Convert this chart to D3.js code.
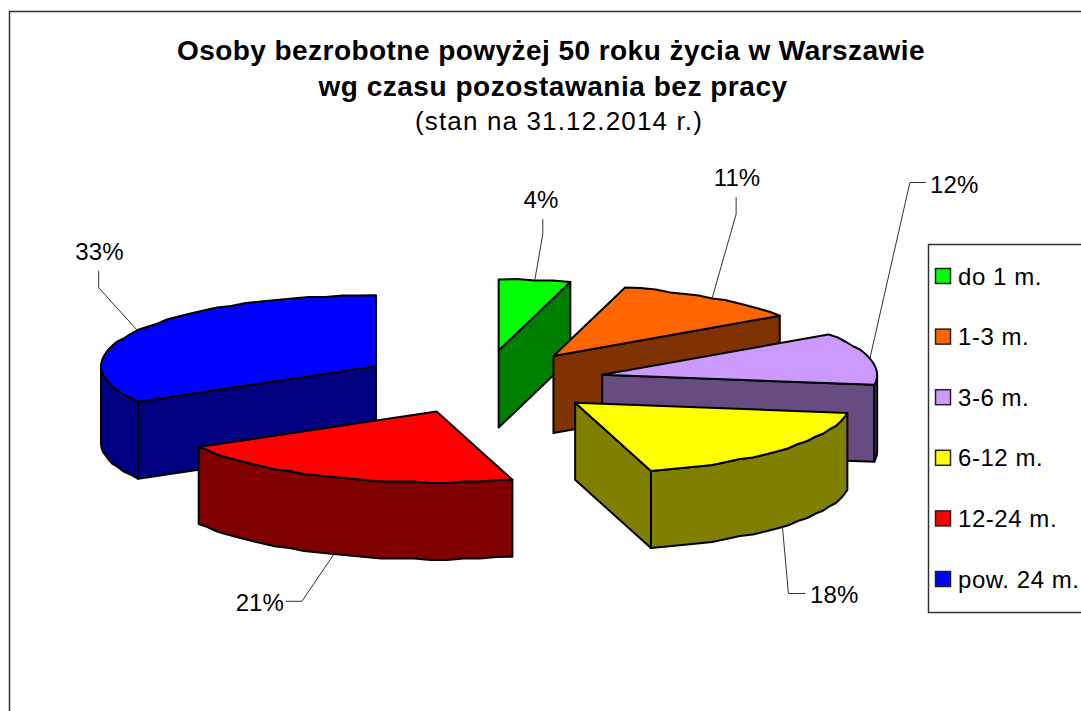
<!DOCTYPE html>
<html><head><meta charset="utf-8">
<script src="https://cdn.jsdelivr.net/npm/d3@7/dist/d3.min.js"></script>
<style>html,body{margin:0;padding:0;background:#fff;overflow:hidden}svg{display:block}text{font-family:"Liberation Sans",Arial,sans-serif;fill:#000}</style>
</head><body><svg id="c" width="1081" height="711"></svg>
<script>
const categories = ["do 1 m.","1-3 m.","3-6 m.","6-12 m.","12-24 m.","pow. 24 m."];
const values = [4.2,11.2,11.9,18.3,21.1,33.4];
const percentLabels = ["4%","11%","12%","18%","21%","33%"];
const topColors = ["#00FF00","#FF6600","#CC99FF","#FFFF00","#FF0000","#0000FF"];
const wallColors = ["#008000","#803300","#664C80","#808000","#800000","#000080"];
const titleLines = ["Osoby bezrobotne powyżej 50 roku życia w Warszawie","wg czasu pozostawania bez pracy"];
const subtitle = "(stan na 31.12.2014 r.)";

// layout
const drawOrder = [0,1,2,5,4,3];
const cx=482.5, cy=382, rx=275, ry=71, depth=77, explode=0.447;
const leaderLayout = [
 {elbow:[8,-46], end:[8,-61], text:[541,207.5], anchor:"middle"},
 {elbow:[24,-84], end:[24,-101], text:[737,185.5], anchor:"middle"},
 {elbow:[40,-176], end:[56,-176], text:[930,192.5], anchor:"start"},
 {elbow:[6,67], end:[23,67], text:[810,602.5], anchor:"start"},
 {elbow:[-32,47], end:[-48,47], text:[284,610.5], anchor:"end"},
 {elbow:[-39,-43], end:[-39,-60], text:[99.5,260], anchor:"middle"}
];
const svg=d3.select("#c");
const x=d3.scaleLinear().domain([-1,1]).range([cx-rx,cx+rx]);
const y=d3.scaleLinear().domain([-1,1]).range([cy-ry,cy+ry]);
const line=d3.line();
const q=1.5;
const arcs=d3.pie().sort(null).value(d=>d)(values);

// frame
svg.append("path").attr("d","M9.5,711V11.5H1081").attr("fill","none").attr("stroke","#333").attr("stroke-width",1.5);

// titles
const tg=svg.append("g").attr("text-anchor","middle");
tg.append("text").attr("x",551).attr("y",60).attr("font-size",28).attr("letter-spacing",0.45).attr("font-weight","bold").text(titleLines[0]);
tg.append("text").attr("x",553).attr("y",96).attr("font-size",28).attr("letter-spacing",0.53).attr("font-weight","bold").text(titleLines[1]);
tg.append("text").attr("x",559).attr("y",130).attr("font-size",26).attr("letter-spacing",1.15).text(subtitle);

function project(a,t,r,z){
  const ox=explode*Math.sin((a.startAngle+a.endAngle)/2), oy=-explode*Math.cos((a.startAngle+a.endAngle)/2);
  return [x(ox+r*Math.sin(t)), y(oy-r*Math.cos(t))+(z||0)];
}
function arcPoints(a,t0,t1,z){
  const n=Math.max(1,Math.round((t1-t0)/(3.5*Math.PI/180))), pts=[];
  for(let i=0;i<=n;i++){
    const p=project(a,t0+(t1-t0)*i/n,1,0);
    const rough=(i===0||i===n)?p:[p[0],Math.round(p[1]/q)*q];
    pts.push([rough[0],rough[1]+(z||0)]);
  }
  return pts;
}
const PI=Math.PI;
drawOrder.forEach(i=>{
  const a=arcs[i], g=svg.append("g").attr("stroke","#000").attr("stroke-width",2).attr("stroke-linejoin","round");
  const wall=(pts)=>g.append("path").attr("d",line(pts)+"Z").attr("fill",wallColors[i]);
  const apex=project(a,0,0,0), apexB=project(a,0,0,depth);
  const s=project(a,a.startAngle,1,0), e=project(a,a.endAngle,1,0);
  if(Math.sin(a.startAngle)<-1e-6) wall([apex,s,[s[0],s[1]+depth],apexB]);
  if(Math.sin(a.endAngle)>1e-6) wall([apex,e,[e[0],e[1]+depth],apexB]);
  const t0=Math.max(a.startAngle,PI/2), t1=Math.min(a.endAngle,3*PI/2);
  if(t1>t0) wall(arcPoints(a,t0,t1,0).concat(arcPoints(a,t0,t1,depth).reverse()));
  g.append("path").attr("d",line([apex].concat(arcPoints(a,a.startAngle,a.endAngle,0)))+"Z").attr("fill",topColors[i]);
});

// leaders and labels
arcs.forEach((a,i)=>{
  const m=(a.startAngle+a.endAngle)/2, L=leaderLayout[i];
  const front=Math.cos(m)<0;
  const p=project(a,m,1,front?depth:0);
  svg.append("path").attr("d",line([p,[p[0]+L.elbow[0],p[1]+L.elbow[1]],[p[0]+L.end[0],p[1]+L.end[1]]]))
    .attr("fill","none").attr("stroke","#333").attr("stroke-width",1);
  svg.append("text").attr("x",L.text[0]).attr("y",L.text[1]).attr("text-anchor",L.anchor).attr("font-size",24).attr("letter-spacing",0.1).text(percentLabels[i]);
});

// legend
svg.append("path").attr("d","M1081,244.5H928.5V612.5H1081").attr("fill","#fff").attr("stroke","#333").attr("stroke-width",1.5);
const ly=d3.scalePoint().domain(categories).range([276,579]);
categories.forEach((c,i)=>{
  svg.append("rect").attr("x",935.5).attr("y",ly(c)-7.5).attr("width",15).attr("height",15).attr("fill",topColors[i]).attr("stroke","#222").attr("stroke-width",1.5);
  svg.append("text").attr("x",958).attr("y",ly(c)+8.5).attr("font-size",24).attr("letter-spacing",0.55).text(c);
});
</script></body></html>
